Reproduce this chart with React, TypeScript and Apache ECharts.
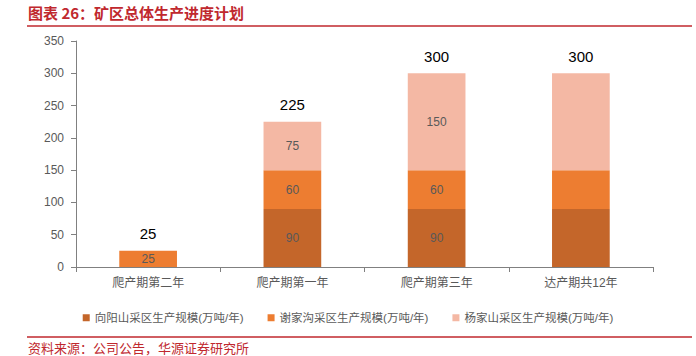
import React, { useEffect, useRef } from "react";
import * as echarts from "echarts";

const categories = ["爬产期第二年", "爬产期第一年", "爬产期第三年", "达产期共12年"];
const xiangyangshan = [0, 90, 90, 90];
const xiejiagou = [25, 60, 60, 60];
const yangjiashan = [0, 75, 150, 150];
const totals = [25, 225, 300, 300];
const showInner = [true, true, true, false];
const seriesNames = [
  "向阳山采区生产规模(万吨/年)",
  "谢家沟采区生产规模(万吨/年)",
  "杨家山采区生产规模(万吨/年)",
];
const colors = ["#C4662A", "#ED7D31", "#F4B8A4"];

const FONT = "'Liberation Sans', 'Noto Sans CJK SC', sans-serif";

export default function App() {
  const ref = useRef<HTMLDivElement>(null);
  useEffect(() => {
    document.body.style.margin = "0";
    if (!ref.current) return;
    const chart = echarts.init(ref.current, undefined, { renderer: "svg" });
    const mk = (arr: number[]) =>
      arr.map((v, i) => ({
        value: v,
        label: { show: v > 0 && showInner[i] },
      }));
    const barSeries = [xiangyangshan, xiejiagou, yangjiashan].map((arr, k) => ({
      name: seriesNames[k],
      type: "bar",
      stack: "total",
      barWidth: "40%",
      data: mk(arr),
      itemStyle: { color: colors[k] },
      label: {
        position: "inside",
        color: "#595959",
        fontSize: 12,
        fontFamily: FONT,
      },
    }));
    chart.setOption({
      animation: false,
      textStyle: { fontFamily: FONT },
      graphic: [
        {
          type: "text",
          left: 28,
          top: 5,
          style: {
            text: "图表 26：矿区总体生产进度计划",
            fill: "#C0282E",
            font: "bold 15px 'Noto Sans CJK SC', sans-serif",
          },
        },
        {
          type: "line",
          shape: { x1: 27, y1: 26, x2: 692, y2: 26 },
          style: { stroke: "#C0282E", lineWidth: 1.5 },
        },
        {
          type: "line",
          shape: { x1: 27, y1: 337, x2: 692, y2: 337 },
          style: { stroke: "#C0282E", lineWidth: 1.5 },
        },
        {
          type: "text",
          left: 28,
          top: 341,
          style: {
            text: "资料来源：公司公告，华源证券研究所",
            fill: "#C0282E",
            font: "13px 'Noto Sans CJK SC', sans-serif",
          },
        },
      ],
      legend: {
        data: seriesNames,
        top: 307,
        left: "center",
        itemWidth: 7,
        itemHeight: 7,
        itemGap: 24,
        icon: "rect",
        textStyle: { color: "#595959", fontSize: 11.5, fontFamily: FONT },
      },
      grid: { left: 76, right: 43, top: 41, bottom: 89 },
      xAxis: {
        type: "category",
        data: categories,
        axisLine: { lineStyle: { color: "#808080" } },
        axisTick: { show: true, alignWithLabel: false, lineStyle: { color: "#808080" } },
        axisLabel: { color: "#595959", fontSize: 12, margin: 10 },
      },
      yAxis: {
        type: "value",
        min: 0,
        max: 350,
        interval: 50,
        axisLine: { show: true, lineStyle: { color: "#808080" } },
        axisTick: { show: true, lineStyle: { color: "#808080" } },
        splitLine: { show: false },
        axisLabel: { color: "#595959", fontSize: 12, margin: 12 },
      },
      series: [
        ...barSeries,
        {
          name: "合计",
          type: "line",
          data: totals,
          symbol: "circle",
          symbolSize: 1,
          itemStyle: { color: "rgba(0,0,0,0)" },
          lineStyle: { opacity: 0 },
          label: {
            show: true,
            position: "top",
            distance: 9,
            color: "#000",
            fontSize: 15,
            fontFamily: FONT,
          },
          silent: true,
        },
      ],
    });
    return () => chart.dispose();
  }, []);
  return <div ref={ref} style={{ width: 696, height: 356 }} />;
}
